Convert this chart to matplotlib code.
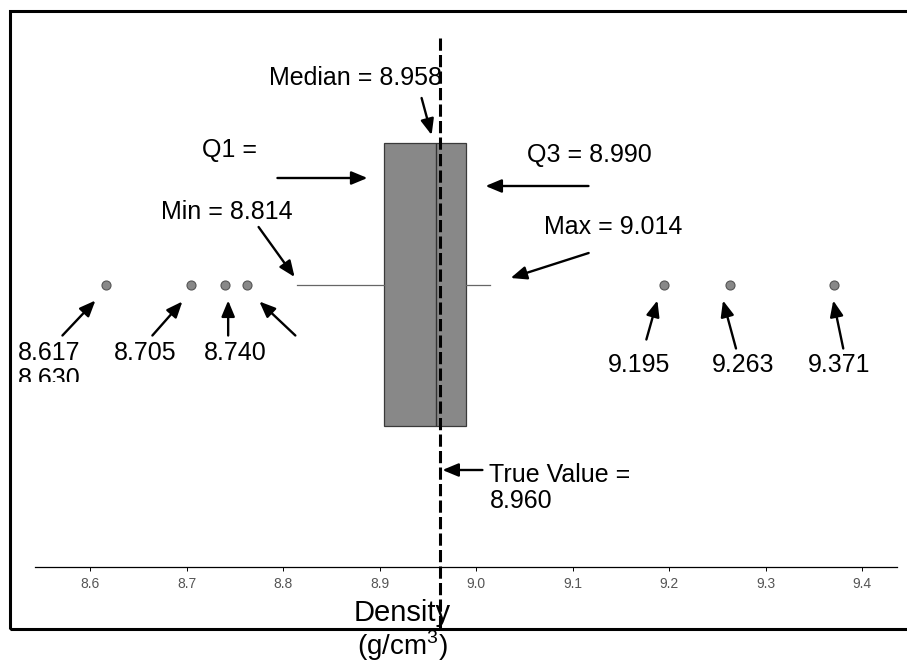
import matplotlib
matplotlib.use("Agg")
import matplotlib.pyplot as plt
from matplotlib.patches import Rectangle
from matplotlib.transforms import offset_copy, Bbox, TransformedBbox

plt.rcParams['font.family'] = ['Liberation Sans', 'DejaVu Sans']
plt.rcParams['mathtext.fontset'] = 'custom'
plt.rcParams['mathtext.rm'] = 'Liberation Sans'

# box plot summary (g/cm3)
q1 = 8.905
median = 8.958
q3 = 8.990
whisker_lo = 8.814
whisker_hi = 9.014
true_value = 8.963
outliers = [8.617, 8.705, 8.740, 8.763, 9.195, 9.263, 9.371]
outlier_labels = ["8.617", "8.705", "8.740", "", "9.195", "9.263", "9.371"]
ticks = [8.6, 8.7, 8.8, 8.9, 9.0, 9.1, 9.2, 9.3, 9.4]

W, H = 907, 666
fig = plt.figure(figsize=(W / 100, H / 100), dpi=100)
# axes: bottom spine is the density axis; y runs in pixels from the top
ax = fig.add_axes([35 / W, (H - 567) / H, 862 / W, 567 / H])
ax.set_xlim(8.543, 9.436)
ax.set_ylim(567, 0)
for s in ['top', 'left', 'right']:
    ax.spines[s].set_visible(False)
ax.spines['bottom'].set_linewidth(0.9)
ax.set_yticks([])
ax.set_xticks(ticks)
ax.set_xticklabels(["%.1f" % t for t in ticks])
ax.tick_params(axis='x', direction='out', length=3, width=0.7, pad=4,
               labelsize=10, labelcolor='#555555')

# outer frame
fig.patches.append(Rectangle((10 / W, 1 - 629 / H), 1.2, (629 - 11) / H,
                             transform=fig.transFigure, fill=False,
                             lw=2.2, ec='black', zorder=10))

box_y = 284.5
stats = [dict(med=median, q1=q1, q3=q3, whislo=whisker_lo, whishi=whisker_hi,
              fliers=outliers)]
ax.bxp(stats, positions=[box_y], widths=283, orientation='horizontal',
       patch_artist=True, showcaps=False, manage_ticks=False,
       boxprops=dict(facecolor='#888888', edgecolor='#3a3a3a', lw=0.9),
       medianprops=dict(color='#333333', lw=1.0),
       whiskerprops=dict(color='#666666', lw=0.9),
       flierprops=dict(marker='o', markersize=6.5, markerfacecolor='#888888',
                       markeredgecolor='#555555', markeredgewidth=0.8))

ax.plot([true_value, true_value], [38, 629], color='black', lw=2.2,
        ls=(0, (4, 1.4)), clip_on=False, zorder=5)

ARROW = dict(arrowstyle='-|>,head_length=0.6,head_width=0.25', color='black',
             lw=1.7, mutation_scale=16, shrinkA=0, shrinkB=0)
FS = 18


def pts(dx, dy):
    return (dx * 0.72, -dy * 0.72)


def arrow(x, y, head, tail):
    # head: pixel offset of the tip from (x, y); tail: pixel offset of the tail
    tr = offset_copy(ax.transData, fig=fig, x=head[0] * 0.72,
                     y=-head[1] * 0.72, units='points')
    ax.annotate('', xy=(x, y), xycoords=tr,
                xytext=pts(tail[0] - head[0], tail[1] - head[1]),
                textcoords='offset points', arrowprops=ARROW,
                annotation_clip=False)


def label(x, y, text, off, ha='left', va='center', **kw):
    return ax.annotate(text, xy=(x, y), xytext=pts(*off),
                       textcoords='offset points', ha=ha, va=va,
                       fontsize=FS, annotation_clip=False, **kw)


arrow(median, 143, (-4, -8), (-14, -45))
label(median, 143, "Median = 8.958", (6, -65), ha='right')

arrow(q1, 178, (-17, 0), (-107, 0))
label(q1, 178, "Q1 =", (-182, -28))

arrow(q3, 186, (19, 0), (122, 0))
label(q3, 186, "Q3 = 8.990", (61, -31))

arrow(whisker_lo, 285, (-2, -8), (-38, -58))
label(whisker_lo, 285, "Min = 8.814", (-4, -73), ha='right')

arrow(whisker_hi, 285, (21, -7), (99, -32))
label(whisker_hi, 285, "Max = 9.014", (54, -58))

arrow(true_value, 470, (2, 0), (42, 0))
label(true_value, 470, "True Value =\n8.960", (49, 18), linespacing=1.15)

heads = [(-11, 16), (-9, 17), (3, 16), (12, 17), (-7, 16), (-7, 16), (-1, 16)]
tails = [(-44, 51), (-39, 51), (3, 51), (48, 51), (-18, 55), (6, 64), (9, 64)]
text_offs = [(-57, 68), (-46, 68), (10, 68), None, (-25, 81), (13, 81), (5, 81)]
for v, lab, hd, tl, to in zip(outliers, outlier_labels, heads, tails, text_offs):
    arrow(v, box_y, hd, tl)
    if lab:
        label(v, box_y, lab, to, ha='center')

# second label under 8.617, cut off in the source
t = label(outliers[0], box_y, "8.630", (-57, 94), ha='center')
t.set_clip_path(None)
t.set_clip_box(TransformedBbox(Bbox([[0, (H - 382) / H], [0.2, (H - 360) / H]]),
                               fig.transFigure))
t.set_clip_on(True)

fig.text(402 / W, (H - 621) / H, "Density", ha='center', va='baseline',
         fontsize=21)
fig.text(402 / W, (H - 655) / H, "(g/cm$^{3}$)", ha='center', va='baseline',
         fontsize=20)

fig.savefig("out.png", dpi=100, facecolor='white')
